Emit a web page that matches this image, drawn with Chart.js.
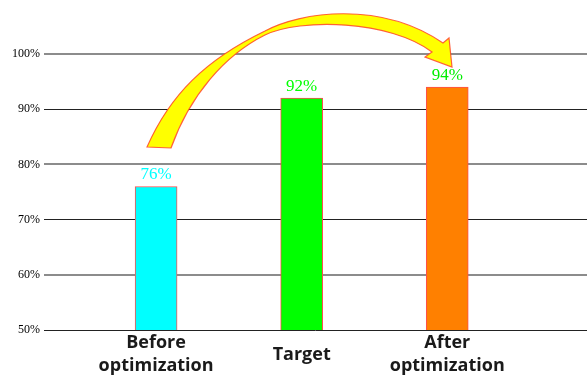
<!DOCTYPE html>
<html>
<head>
<meta charset="utf-8">
<script src="https://cdn.jsdelivr.net/npm/chart.js@4/dist/chart.umd.min.js"></script>
<style>
  html, body { margin: 0; padding: 0; background: #fff; }
  #wrap { width: 587px; height: 379px; }
</style>
</head>
<body>
<div id="wrap"><canvas id="myChart"></canvas></div>
<script>
// categories and values
const categories = [["Before", "optimization"], "Target", ["After", "optimization"]];
const rates = [76, 92, 94];
const barColors = ["#00ffff", "#00ff00", "#ff8000"];
const labelColors = ["#00ffff", "#00ff00", "#00ee00"];
const yTicks = [50, 60, 70, 80, 90, 100];

// value labels above each bar
const valueLabels = {
  id: "valueLabels",
  afterDatasetsDraw(chart) {
    const ctx = chart.ctx;
    ctx.save();
    ctx.font = "17px 'Liberation Serif'";
    ctx.textAlign = "center";
    ctx.textBaseline = "bottom";
    chart.getDatasetMeta(0).data.forEach((bar, i) => {
      ctx.fillStyle = labelColors[i];
      ctx.fillText(rates[i] + "%", bar.x, bar.y - 3);
    });
    ctx.restore();
  }
};

// curved yellow arrow from the first bar over to the last one
const curvedArrow = {
  id: "curvedArrow",
  afterDraw(chart) {
    const ctx = chart.ctx;
    ctx.save();
    ctx.beginPath();
    ctx.moveTo(147, 147);
    ctx.bezierCurveTo(170, 95, 205, 60, 265, 31);
    ctx.bezierCurveTo(300, 12, 380, 0, 443, 43);
    ctx.lineTo(449, 38);
    ctx.lineTo(452, 67);
    ctx.lineTo(425, 57);
    ctx.lineTo(432, 52);
    ctx.bezierCurveTo(390, 20, 300, 18, 265, 35);
    ctx.bezierCurveTo(225, 55, 190, 95, 171, 148);
    ctx.closePath();
    ctx.fillStyle = "#ffff00";
    ctx.fill();
    ctx.lineWidth = 1.2;
    ctx.strokeStyle = "rgba(255, 70, 40, 0.85)";
    ctx.stroke();
    ctx.restore();
  }
};

let ctx = document.getElementById("myChart").getContext("2d");
new Chart(ctx, {
  type: "bar",
  data: {
    datasets: [{
      data: rates.map((v, i) => ({ x: i + 1, y: v })),
      backgroundColor: barColors,
      borderColor: "#ff4d4d",
      borderWidth: 1,
      barThickness: 42
    }]
  },
  options: {
    responsive: true,
    maintainAspectRatio: false,
    animation: false,
    layout: { padding: { top: 54, left: 0, right: 0, bottom: 0 } },
    plugins: {
      legend: { display: false },
      tooltip: { enabled: false }
    },
    scales: {
      x: {
        type: "linear",
        offset: false,
        min: 0.23,
        max: 3.96,
        afterBuildTicks: axis => {
          axis.ticks = categories.map((c, i) => ({ value: i + 1 }));
        },
        afterFit: axis => { axis.height = 49; },
        grid: { display: false },
        border: { display: false },
        ticks: {
          autoSkip: false,
          maxRotation: 0,
          padding: 5,
          crossAlign: "center",
          color: "#1a1a1a",
          font: { family: "'Open Sans'", size: 18, weight: "bold", lineHeight: 1.28 },
          callback: value => categories[value - 1]
        }
      },
      y: {
        min: 50,
        max: 100,
        afterBuildTicks: axis => {
          axis.ticks = yTicks.map(v => ({ value: v }));
        },
        afterFit: axis => { axis.width = 44; },
        border: { display: false },
        grid: {
          drawTicks: false,
          color: c => (c.tick && c.tick.value % 20 === 0) ? "#8c8c8c" : "#222",
          lineWidth: c => (c.tick && c.tick.value % 20 === 0) ? 2 : 1
        },
        ticks: {
          padding: 4,
          color: "#000",
          font: { family: "'Liberation Serif'", size: 12 },
          callback: v => v + "%"
        }
      }
    }
  },
  plugins: [valueLabels, curvedArrow]
});
</script>
</body>
</html>
